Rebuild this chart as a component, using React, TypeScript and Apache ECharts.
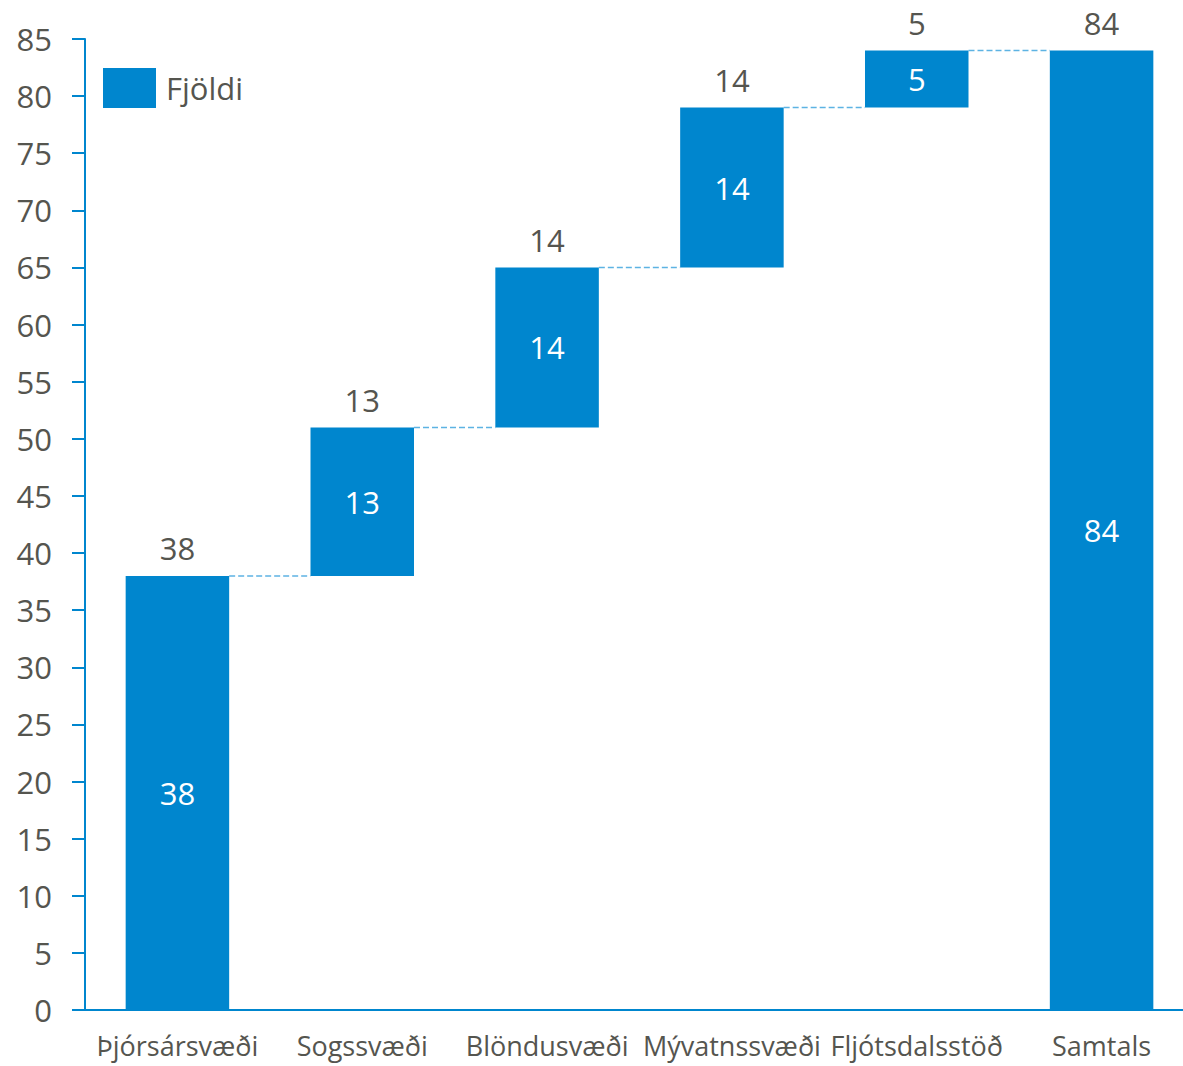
import React, { useEffect, useRef } from "react";
import * as echarts from "echarts";

const categories = ["Þjórsársvæði", "Sogssvæði", "Blöndusvæði", "Mývatnssvæði", "Fljótsdalsstöð", "Samtals"];
const baseValues = [0, 38, 51, 65, 79, 0];
const deltaValues = [38, 13, 14, 14, 5, 84];
const yTicks = { min: 0, max: 85, interval: 5 };
const seriesName = "Fjöldi";

const BLUE = "#0086CE";
const GRAY = "#55554F";
const FONT = "Open Sans";

export default function App() {
  const ref = useRef<HTMLDivElement>(null);
  useEffect(() => {
    if (!ref.current) return;
    const chart = echarts.init(ref.current, undefined, { renderer: "svg" });
    const tops = deltaValues.map((d, i) => baseValues[i] + d);
    const connectors = tops.slice(0, -1).map((t, i) => [i, t]);
    chart.setOption({
      animation: false,
      backgroundColor: "#ffffff",
      textStyle: { fontFamily: FONT },
      grid: { left: 85, right: 6, top: 39, bottom: 56, containLabel: false, outerBoundsMode: "none" },
      legend: {
        data: [seriesName],
        left: 98,
        top: 63,
        itemWidth: 53,
        itemHeight: 40,
        icon: "rect",
        textStyle: { fontSize: 31, color: GRAY, fontFamily: FONT, padding: [0, 0, 0, 5] },
      },
      xAxis: {
        type: "category",
        data: categories,
        axisLine: { lineStyle: { color: BLUE, width: 2 } },
        axisTick: { show: false },
        axisLabel: { interval: 0, fontSize: 27, color: GRAY, margin: 22, fontFamily: FONT },
      },
      yAxis: {
        type: "value",
        min: yTicks.min,
        max: yTicks.max,
        interval: yTicks.interval,
        axisLine: { show: true, lineStyle: { color: BLUE, width: 2 } },
        axisTick: { show: true, length: 13, lineStyle: { color: BLUE, width: 2 } },
        splitLine: { show: false },
        axisLabel: { fontSize: 31, color: GRAY, margin: 33, fontFamily: FONT },
      },
      series: [
        {
          name: "base",
          type: "bar",
          stack: "w",
          barWidth: "56%",
          itemStyle: { color: "transparent" },
          emphasis: { disabled: true },
          data: baseValues,
        },
        {
          name: seriesName,
          type: "bar",
          stack: "w",
          barWidth: "56%",
          itemStyle: { color: BLUE },
          label: { show: true, position: "inside", color: "#ffffff", fontSize: 31, fontFamily: FONT },
          data: deltaValues,
        },
        {
          name: "topLabels",
          type: "scatter",
          symbolSize: 0,
          itemStyle: { opacity: 1 },
          data: tops.map((t, i) => [i, t]),
          label: {
            show: true,
            position: "top",
            distance: 12,
            color: GRAY,
            opacity: 1,
            fontSize: 31,
            fontFamily: FONT,
            formatter: (p: any) => String(deltaValues[p.dataIndex]),
          },
        },
        {
          name: "connectors",
          type: "custom",
          data: connectors,
          renderItem: (params: any, api: any) => {
            const i = api.value(0);
            const lvl = api.value(1);
            const p0 = api.coord([i, lvl]);
            const p1 = api.coord([i + 1, lvl]);
            const bw = api.size([1, 0])[0] * 0.56;
            return {
              type: "line",
              shape: { x1: p0[0] + bw / 2, y1: p0[1], x2: p1[0] - bw / 2, y2: p1[1] },
              style: { stroke: "#5DB3E3", lineWidth: 1.5, lineDash: [6, 3] },
            };
          },
        },
      ],
    });
    return () => chart.dispose();
  }, []);
  return (
    <div style={{ position: "fixed", left: 0, top: 0, width: 1183, height: 1066, overflow: "hidden" }}>
      <div ref={ref} style={{ width: 1200, height: 1066 }} />
    </div>
  );
}
